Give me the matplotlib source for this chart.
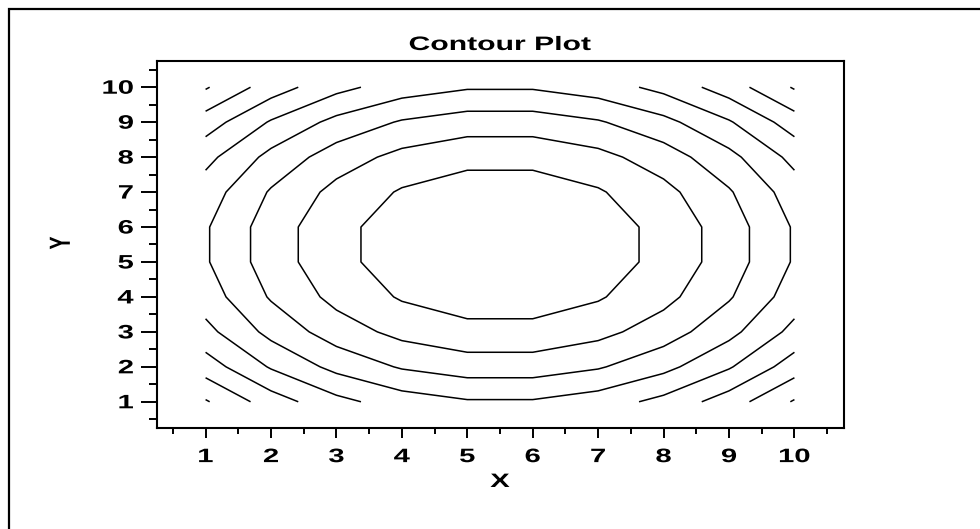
import matplotlib
matplotlib.use("Agg")
import matplotlib.pyplot as plt
import matplotlib.patheffects as pe
from matplotlib.transforms import Affine2D
from matplotlib.patches import Rectangle
import numpy as np

# Grid coordinates and surface values
x_vals = [1, 2, 3, 4, 5, 6, 7, 8, 9, 10]
y_vals = [1, 2, 3, 4, 5, 6, 7, 8, 9, 10]
z_vals = [
    [40.5, 32.5, 26.5, 22.5, 20.5, 20.5, 22.5, 26.5, 32.5, 40.5],
    [32.5, 24.5, 18.5, 14.5, 12.5, 12.5, 14.5, 18.5, 24.5, 32.5],
    [26.5, 18.5, 12.5,  8.5,  6.5,  6.5,  8.5, 12.5, 18.5, 26.5],
    [22.5, 14.5,  8.5,  4.5,  2.5,  2.5,  4.5,  8.5, 14.5, 22.5],
    [20.5, 12.5,  6.5,  2.5,  0.5,  0.5,  2.5,  6.5, 12.5, 20.5],
    [20.5, 12.5,  6.5,  2.5,  0.5,  0.5,  2.5,  6.5, 12.5, 20.5],
    [22.5, 14.5,  8.5,  4.5,  2.5,  2.5,  4.5,  8.5, 14.5, 22.5],
    [26.5, 18.5, 12.5,  8.5,  6.5,  6.5,  8.5, 12.5, 18.5, 26.5],
    [32.5, 24.5, 18.5, 14.5, 12.5, 12.5, 14.5, 18.5, 24.5, 32.5],
    [40.5, 32.5, 26.5, 22.5, 20.5, 20.5, 22.5, 26.5, 32.5, 40.5],
]
levels = [5, 10, 15, 20, 25, 30, 35, 40]
tick_values = [1, 2, 3, 4, 5, 6, 7, 8, 9, 10]
tick_labels = ["1", "2", "3", "4", "5", "6", "7", "8", "9", "10"]


class HStretch(pe.AbstractPathEffect):
    """Widen glyphs horizontally about a chosen anchor of their ink box."""

    def __init__(self, sx=1.55, anchor="center"):
        super().__init__()
        self.sx = sx
        self.anchor = anchor

    def draw_path(self, renderer, gc, tpath, affine, rgbFace=None):
        bb = tpath.get_extents(affine)
        if self.anchor == "right":
            cx = bb.x1
        elif self.anchor == "left":
            cx = bb.x0
        else:
            cx = 0.5 * (bb.x0 + bb.x1)
        aff = affine + Affine2D().translate(-cx, 0).scale(self.sx, 1).translate(cx, 0)
        renderer.draw_path(gc, tpath, aff, rgbFace)


W, H = 980, 529
fig = plt.figure(figsize=(W / 100, H / 100), dpi=100)
plt.rcParams["font.family"] = ["Liberation Sans", "DejaVu Sans"]
FS = 14

# Outer frame (left and top edges visible)
fig.patches.append(Rectangle((9 / W, -0.1), 1.2, (H - 9) / H + 0.1,
                             transform=fig.transFigure, fill=False,
                             edgecolor="black", linewidth=1.6))

ax = fig.add_axes([156.5 / W, 1 - 428 / H, 687 / W, 367 / H])
X, Y = np.meshgrid(x_vals, y_vals)
Z = np.array(z_vals)
ax.contour(X, Y, Z, levels=levels, colors="black", linewidths=1.1)

ax.set_xlim(0.25, 10.75)
ax.set_ylim(0.25, 10.75)
ax.set_xticks(tick_values)
ax.set_xticklabels(tick_labels)
ax.set_yticks(tick_values)
ax.set_yticklabels(tick_labels)
ax.set_xticks(np.arange(0.5, 11, 1.0), minor=True)
ax.set_yticks(np.arange(0.5, 11, 1.0), minor=True)

for s in ax.spines.values():
    s.set_linewidth(1.5)
ax.tick_params(axis="x", which="major", direction="out", length=7.2, width=1.4, pad=8)
ax.tick_params(axis="x", which="minor", direction="out", length=4.3, width=1.4)
ax.tick_params(axis="y", which="major", direction="out", length=11.5, width=1.4, pad=5)
ax.tick_params(axis="y", which="minor", direction="out", length=5.8, width=1.4)

for lab in ax.get_xticklabels():
    lab.set_fontsize(FS)
    lab.set_fontweight("bold")
    lab.set_path_effects([HStretch(1.5, "center")])
for lab in ax.get_yticklabels():
    lab.set_fontsize(FS)
    lab.set_fontweight("bold")
    lab.set_path_effects([HStretch(1.5, "right")])

fig.text(500 / W, 1 - 50 / H, "Contour Plot", ha="center", va="baseline",
         fontsize=FS, fontweight="bold", path_effects=[HStretch(1.55, "center")])
fig.text(500 / W, 1 - 487 / H, "X", ha="center", va="baseline",
         fontsize=FS, fontweight="bold", path_effects=[HStretch(1.5, "center")])
fig.text(62 / W, 1 - 243 / H, "Y", ha="center", va="center", rotation=90,
         fontsize=FS, fontweight="bold", path_effects=[HStretch(1.5, "center")])

fig.savefig("out.png", dpi=100)
